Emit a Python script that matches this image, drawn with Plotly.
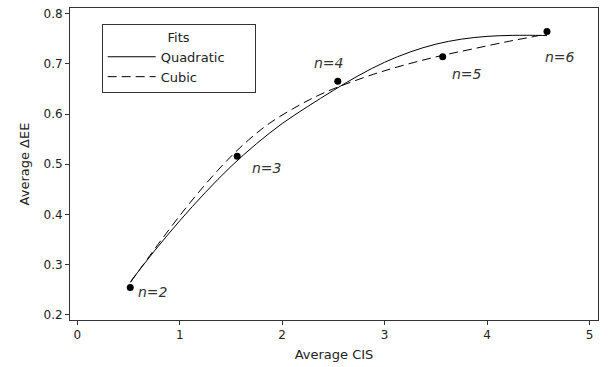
import plotly.graph_objects as go

# Observed averages
cis = [0.517, 1.561, 2.543, 3.567, 4.585]
dee = [0.2545, 0.516, 0.665, 0.714, 0.764]
labels = ["n=2", "n=3", "n=4", "n=5", "n=6"]
label_dx = [23, 30, -9, 24, 13]
label_dy = [-4, -12, 18, -17, -25]

# Fitted curves
quad_x = [0.52, 0.75, 1.0, 1.25, 1.5, 1.75, 2.0, 2.25, 2.5, 2.75, 3.0, 3.25, 3.5, 3.75, 4.0, 4.25, 4.5, 4.585]
quad_y = [0.2665, 0.3266, 0.3874, 0.4438, 0.4955, 0.541, 0.581, 0.615, 0.647, 0.677,
          0.703, 0.7235, 0.739, 0.749, 0.7545, 0.7565, 0.7565, 0.756]
cub_x = [0.52, 0.90, 1.18, 1.45, 1.67, 1.88, 2.18, 2.44, 2.89, 3.22, 3.54, 3.87, 4.22, 4.49, 4.585]
cub_y = [0.265, 0.371, 0.443, 0.505, 0.548, 0.582, 0.619, 0.645, 0.679, 0.699, 0.7155, 0.730,
         0.745, 0.7555, 0.760]

font = "DejaVu Sans"
NB = "\u00a0"

fig = go.Figure()
fig.add_trace(go.Scatter(x=quad_x, y=quad_y, mode="lines", name="Quadratic" + NB * 6,
                         line=dict(color="black", width=1, shape="spline")))
fig.add_trace(go.Scatter(x=cub_x, y=cub_y, mode="lines", name="Cubic",
                         line=dict(color="black", width=1, dash="9px,5px", shape="spline")))
fig.add_trace(go.Scatter(x=cis, y=dee, mode="markers", showlegend=False,
                         marker=dict(color="black", size=7)))

for x, y, t, dx, dy in zip(cis, dee, labels, label_dx, label_dy):
    fig.add_annotation(x=x, y=y, text=f"<i>{t}</i>", showarrow=False,
                       xshift=dx, yshift=dy,
                       font=dict(family=font, size=14, color="#333"))

axis_common = dict(showline=True, linecolor="#333", linewidth=1, mirror=True,
                   ticks="outside", ticklen=4, tickcolor="#333",
                   showgrid=False, zeroline=False,
                   tickfont=dict(family=font, size=12, color="#222"))

fig.update_xaxes(range=[-0.071, 5.083], tickvals=[0, 1, 2, 3, 4, 5],
                 title=dict(text="Average CIS", font=dict(family=font, size=13, color="#222"), standoff=8),
                 **axis_common)
fig.update_yaxes(range=[0.190, 0.811], tickvals=[0.2, 0.3, 0.4, 0.5, 0.6, 0.7, 0.8],
                 tickformat=".1f",
                 title=dict(text="Average ΔEE", font=dict(family=font, size=13, color="#222"), standoff=10),
                 **axis_common)

fig.update_layout(
    width=613, height=367,
    margin=dict(l=70, r=15, t=7, b=45),
    plot_bgcolor="white", paper_bgcolor="white",
    legend=dict(x=0.06, y=0.949, xanchor="left", yanchor="top",
                bordercolor="#333", borderwidth=1, bgcolor="white",
                title=dict(text="Fits", side="top center", font=dict(family=font, size=13, color="#222")),
                font=dict(family=font, size=13, color="#222"),
                itemwidth=48, tracegroupgap=0),
)

fig.write_html("out.html")
